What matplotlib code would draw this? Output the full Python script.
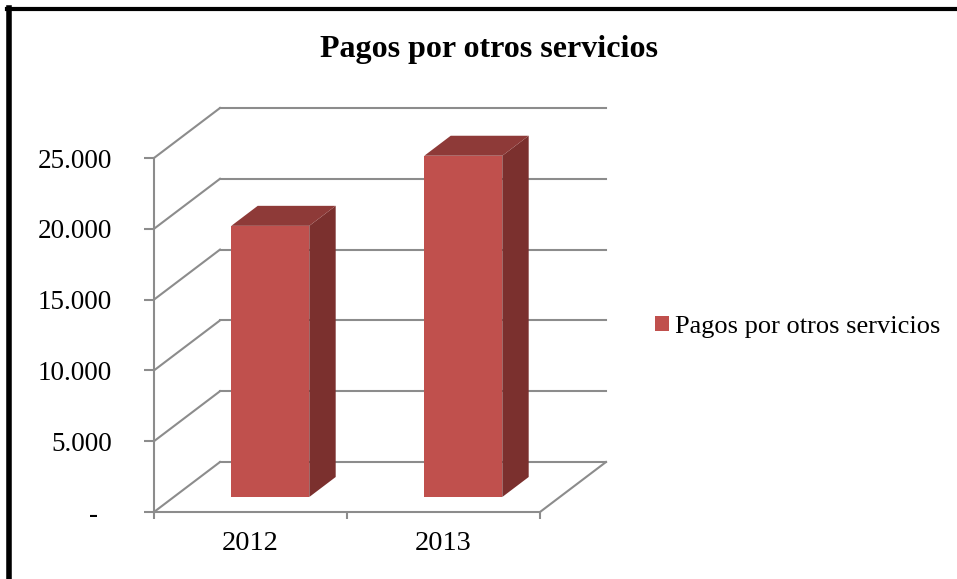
import numpy as np
import matplotlib.pyplot as plt
from matplotlib.patches import Polygon
from matplotlib.lines import Line2D

# data
years = ["2012", "2013"]
pagos = [19150, 24100]
yticks = [0, 5000, 10000, 15000, 20000, 25000]
ytick_labels = ["-  ", "5.000", "10.000", "15.000", "20.000", "25.000"]
titulo = "Pagos por otros servicios"

plt.rcParams['font.family'] = ['Liberation Serif', 'DejaVu Serif']

W, H = 957, 579
fig = plt.figure(figsize=(W / 100, H / 100), dpi=100)

# front plane of the 3d box
ax = fig.add_axes([154 / W, 67 / H, 386 / W, 354 / H])
ymax = 25000
ax.set_xlim(0, len(years))
ax.set_ylim(0, ymax)

# depth offset (oblique projection) in data units
DX = 66 / 193.0
DY = 50 / (354.0 / ymax)

grid_c = '#8c8c8c'
lw = 1.5
n = len(years)

# back wall gridlines + left wall diagonals
for v in yticks:
    ax.plot([DX, n + DX], [v + DY, v + DY], color=grid_c, lw=lw, clip_on=False, zorder=1)
    ax.plot([0, DX], [v, v + DY], color=grid_c, lw=lw, clip_on=False, zorder=1)
# floor right edge
ax.plot([n, n + DX], [0, DY], color=grid_c, lw=lw, clip_on=False, zorder=1)

# bars
bw = 0.404
d0, d1 = 0.3, 0.7
front_c, top_c, side_c = '#c0504d', '#8e3a38', '#7b302e'
for i, v in enumerate(pagos):
    x0 = i + 0.5 - bw / 2 + d0 * DX
    x1 = x0 + bw
    y0 = d0 * DY
    dd = (d1 - d0)
    front = [(x0, y0), (x1, y0), (x1, y0 + v), (x0, y0 + v)]
    top = [(x0, y0 + v), (x1, y0 + v), (x1 + dd * DX, y0 + v + dd * DY), (x0 + dd * DX, y0 + v + dd * DY)]
    side = [(x1, y0), (x1 + dd * DX, y0 + dd * DY), (x1 + dd * DX, y0 + v + dd * DY), (x1, y0 + v)]
    for pts, c in [(side, side_c), (top, top_c), (front, front_c)]:
        ax.add_patch(Polygon(pts, closed=True, facecolor=c, edgecolor='none', zorder=3, clip_on=False))

# axes
for s in ['top', 'right']:
    ax.spines[s].set_visible(False)
for s in ['left', 'bottom']:
    ax.spines[s].set_color(grid_c)
    ax.spines[s].set_linewidth(lw)
ax.set_yticks(yticks)
ax.set_yticklabels(ytick_labels)
ax.tick_params(axis='y', direction='out', length=7, width=lw, color=grid_c, pad=23.5, labelsize=19.5)
ax.set_xticks(range(n + 1))
ax.set_xticklabels([])
ax.set_xticks([i + 0.5 for i in range(n)], minor=True)
ax.set_xticklabels(years, minor=True)
ax.tick_params(axis='x', which='major', direction='out', length=5, width=lw, color=grid_c)
ax.tick_params(axis='x', which='minor', length=0, pad=14, labelsize=20.5)
ax.patch.set_visible(False)

fig.text(489 / W, 1 - 50 / H, titulo, ha='center', va='center', fontsize=23, fontweight='bold')

# legend
leg_h = [Polygon([(0, 0)], facecolor=front_c, edgecolor='none')]
fig.legend(leg_h, [titulo], loc='center left', bbox_to_anchor=(631 / W, 1 - 327 / H),
           frameon=False, fontsize=19, handlelength=0.53, handleheight=0.53, handletextpad=0.25)

# outer frame (black lines at left and top)
fig.add_artist(Line2D([8.5 / W, 8.5 / W], [0, 1 - 8 / H], color='black', lw=4, transform=fig.transFigure))
fig.add_artist(Line2D([6.5 / W, 1], [1 - 8.5 / H, 1 - 8.5 / H], color='black', lw=3, transform=fig.transFigure))

fig.savefig('out.png', dpi=100)
